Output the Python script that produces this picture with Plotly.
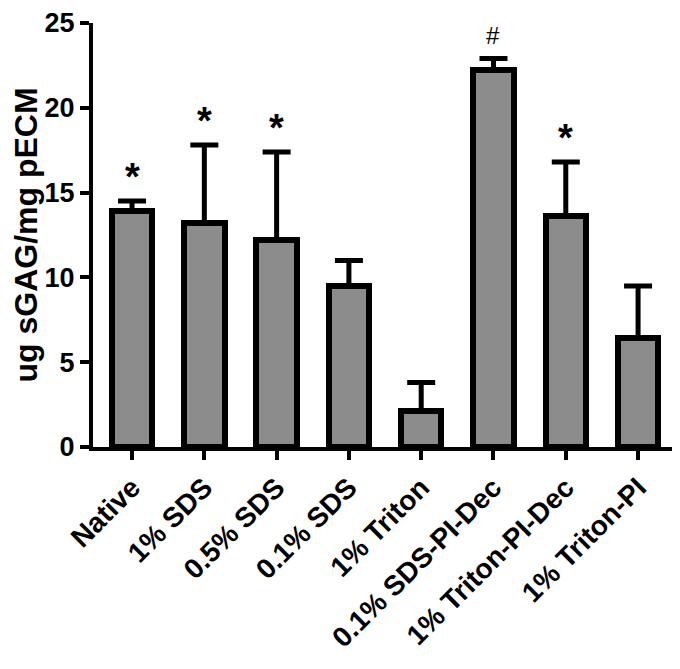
import plotly.graph_objects as go

categories = ["Native", "1% SDS", "0.5% SDS", "0.1% SDS", "1% Triton",
              "0.1% SDS-PI-Dec", "1% Triton-PI-Dec", "1% Triton-PI"]
means = [13.9, 13.2, 12.2, 9.5, 2.15, 22.2, 13.6, 6.4]
errors = [0.6, 4.6, 5.2, 1.5, 1.65, 0.7, 3.2, 3.1]
marks = ["*", "*", "*", "", "", "#", "*", ""]
y_ticks = [0, 5, 10, 15, 20, 25]

FONT = "Liberation Sans"
x_idx = list(range(len(categories)))

fig = go.Figure()
fig.add_trace(go.Bar(
    x=x_idx, y=means, width=0.56,
    marker=dict(color="#8c8c8c", line=dict(color="black", width=6)),
    error_y=dict(type="data", array=errors, arrayminus=[0] * len(errors),
                 symmetric=False, color="black", thickness=5, width=14),
))

for i, (m, e, s) in enumerate(zip(means, errors, marks)):
    if not s:
        continue
    fig.add_annotation(
        x=i, y=m + e, text=s, showarrow=False, yanchor="bottom",
        yshift=(1 if s == "*" else 8),
        font=dict(family=FONT, size=(38 if s == "*" else 24), color="black",
                  weight="bold" if s == "*" else "normal"),
    )

fig.update_layout(
    width=672, height=661,
    margin=dict(l=85, r=0, t=10, b=222),
    plot_bgcolor="white", paper_bgcolor="white",
    showlegend=False,
    font=dict(family=FONT, color="black", weight="bold"),
    bargap=0,
)
fig.update_xaxes(
    range=[-0.54, 7.58], tickvals=x_idx, ticktext=categories,
    tickangle=-45, tickfont=dict(family=FONT, size=28, weight="bold"),
    showline=True, linecolor="black", linewidth=4,
    ticks="outside", ticklen=9, tickwidth=4, tickcolor="black",
    showgrid=False, zeroline=False,
)
fig.update_yaxes(
    range=[0, 25], tickvals=y_ticks,
    tickfont=dict(family=FONT, size=27, weight="bold"),
    ticklabeloverflow="allow",
    title=dict(text="ug sGAG/mg pECM", font=dict(family=FONT, size=32, weight="bold"),
               standoff=8),
    showline=True, linecolor="black", linewidth=4,
    ticks="outside", ticklen=9, tickwidth=4, tickcolor="black",
    showgrid=False, zeroline=False,
)

fig.write_html("out.html")
